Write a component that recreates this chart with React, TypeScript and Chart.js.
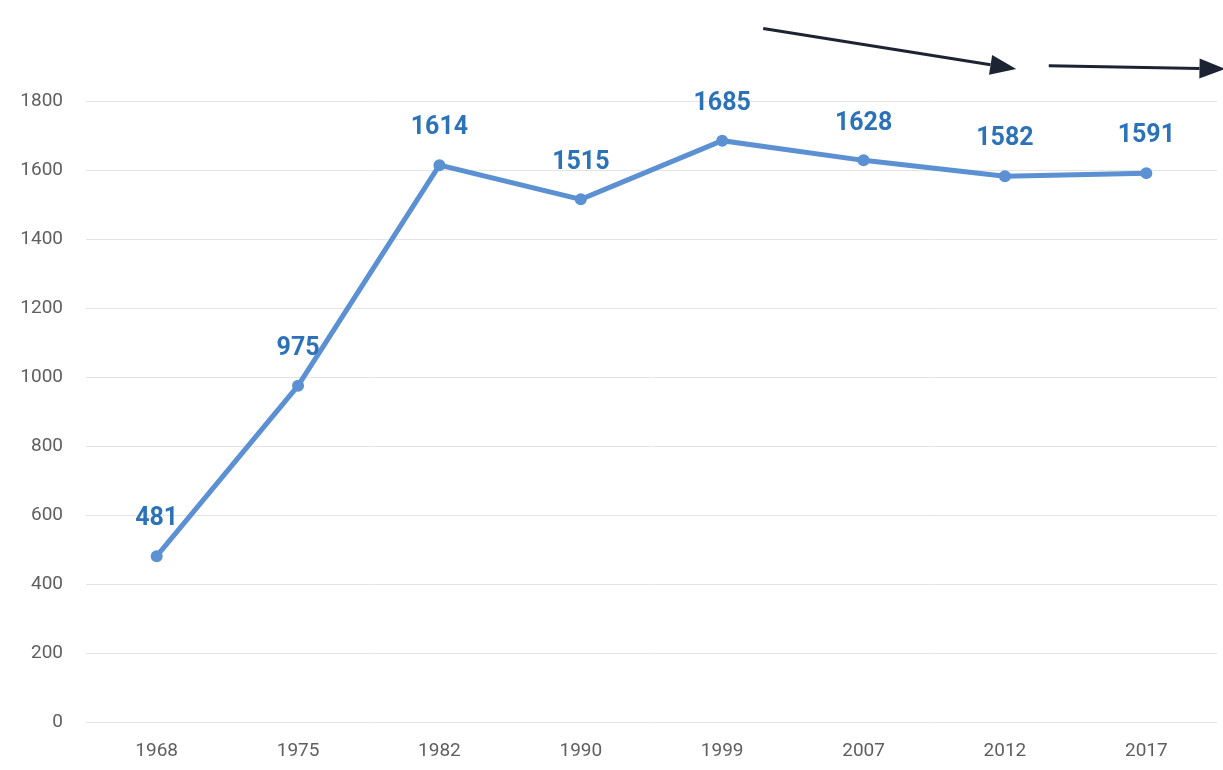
import React, { useEffect, useRef } from "react";
import { Chart, registerables } from "chart.js";

Chart.register(...registerables);

const years: string[] = ["1968", "1975", "1982", "1990", "1999", "2007", "2012", "2017"];
const values: number[] = [481, 975, 1614, 1515, 1685, 1628, 1582, 1591];
const yTicks: number[] = [0, 200, 400, 600, 800, 1000, 1200, 1400, 1600, 1800];

// Trend arrows: [index, value] in data space
const arrowFrom1 = [4.29, 2010];
const arrowTo1 = [6.08, 1893];
const arrowFrom2 = [6.31, 1902];
const arrowTo2 = [7.56, 1893];

const LINE_COLOR = "#5b90d2";
const LABEL_COLOR = "#2b72b9";

const overlayPlugin = {
  id: "overlay",
  afterDatasetsDraw(chart: any) {
    const ctx = chart.ctx;
    const xs = chart.scales.x;
    const ys = chart.scales.y;
    const meta = chart.getDatasetMeta(0);
    ctx.save();
    ctx.font = "bold 25px Roboto, 'Noto Sans', sans-serif";
    ctx.fillStyle = LABEL_COLOR;
    ctx.textAlign = "center";
    ctx.textBaseline = "middle";
    meta.data.forEach((pt: any, i: number) => {
      ctx.fillText(String(values[i]), pt.x, pt.y - 37);
    });
    const arrow = (a: number[], b: number[]) => {
      const x1 = xs.getPixelForValue(a[0]);
      const y1 = ys.getPixelForValue(a[1]);
      const x2 = xs.getPixelForValue(b[0]);
      const y2 = ys.getPixelForValue(b[1]);
      const ang = Math.atan2(y2 - y1, x2 - x1);
      const len = 26;
      const hw = 10;
      const bx = x2 - len * Math.cos(ang);
      const by = y2 - len * Math.sin(ang);
      ctx.strokeStyle = "#1c2433";
      ctx.fillStyle = "#1c2433";
      ctx.lineWidth = 3;
      ctx.beginPath();
      ctx.moveTo(x1, y1);
      ctx.lineTo(bx, by);
      ctx.stroke();
      ctx.beginPath();
      ctx.moveTo(x2, y2);
      ctx.lineTo(bx - hw * Math.sin(ang), by + hw * Math.cos(ang));
      ctx.lineTo(bx + hw * Math.sin(ang), by - hw * Math.cos(ang));
      ctx.closePath();
      ctx.fill();
    };
    arrow(arrowFrom1, arrowTo1);
    arrow(arrowFrom2, arrowTo2);
    ctx.restore();
  },
};

export default function App() {
  const ref = useRef<HTMLCanvasElement | null>(null);
  useEffect(() => {
    if (!ref.current) return;
    const chart = new Chart(ref.current, {
      type: "line",
      data: {
        labels: years,
        datasets: [
          {
            data: values,
            borderColor: LINE_COLOR,
            backgroundColor: LINE_COLOR,
            borderWidth: 5,
            pointRadius: 6,
            pointBorderWidth: 0,
            pointBackgroundColor: LINE_COLOR,
            tension: 0,
          },
        ],
      },
      options: {
        animation: false,
        responsive: false,
        layout: { padding: { top: 101, right: 6, bottom: 0, left: 0 } },
        plugins: { legend: { display: false }, tooltip: { enabled: false } },
        scales: {
          x: {
            offset: true,
            grid: { display: false },
            border: { display: false },
            ticks: {
              color: "#5f5f5f",
              font: { size: 19, family: "Roboto, 'Noto Sans', sans-serif" },
              padding: 10,
            },
          },
          y: {
            min: 0,
            max: 1800,
            afterBuildTicks: (axis: any) => {
              axis.ticks = yTicks.map((v) => ({ value: v }));
            },
            afterFit: (axis: any) => {
              axis.width = 86;
            },
            grid: { color: "#e4e4e4", lineWidth: 1, drawTicks: false },
            border: { display: false },
            ticks: {
              color: "#5f5f5f",
              font: { size: 19, family: "Roboto, 'Noto Sans', sans-serif" },
              padding: 23,
              callback: (v: any) => String(v),
            },
          },
        },
      },
      plugins: [overlayPlugin],
    });
    return () => chart.destroy();
  }, []);
  return (
    <div style={{ position: "fixed", left: 0, top: 0, width: 1223, height: 770, background: "#fff", overflow: "hidden" }}>
      <canvas ref={ref} width={1223} height={773} style={{ width: 1223, height: 773, display: "block" }} />
    </div>
  );
}
